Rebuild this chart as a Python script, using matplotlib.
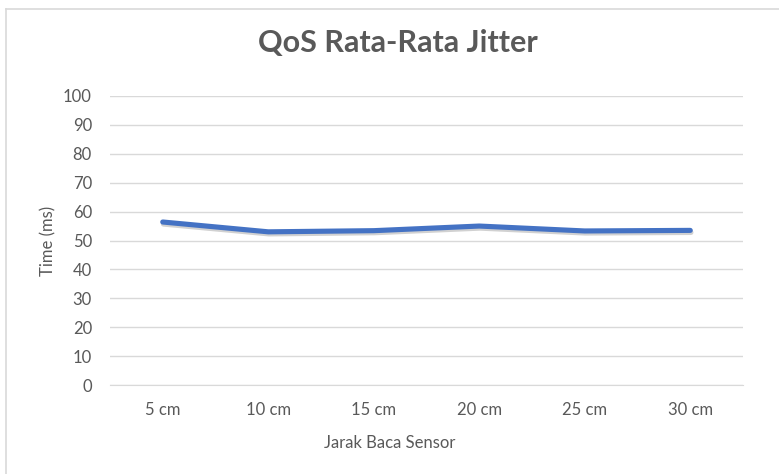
import matplotlib.pyplot as plt
import matplotlib.patheffects as pe
from matplotlib.lines import Line2D

categories = ['5 cm', '10 cm', '15 cm', '20 cm', '25 cm', '30 cm']
jitter = [56.4, 53.0, 53.4, 55.0, 53.3, 53.5]
yticks = [0, 10, 20, 30, 40, 50, 60, 70, 80, 90, 100]

plt.rcParams['font.family'] = ['Lato', 'DejaVu Sans']
txt = '#595959'

fig = plt.figure(figsize=(7.79, 4.74), dpi=100)
ax = fig.add_axes([110 / 779, 89 / 474, 633 / 779, 289 / 474])

x = list(range(len(categories)))
ax.plot(x, jitter, color='#4472C4', lw=3.7, solid_capstyle='round',
        path_effects=[pe.SimpleLineShadow(offset=(0.5, -1.5), shadow_color='#000000', alpha=0.18),
                      pe.Normal()], zorder=3)

ax.set_xlim(-0.5, len(categories) - 0.5)
ax.set_ylim(0, 100)
ax.set_yticks(yticks)
ax.set_xticks(x)
ax.set_xticklabels(categories)
ax.grid(axis='y', color='#D9D9D9', lw=1)
ax.set_axisbelow(True)
for s in ['top', 'right', 'left']:
    ax.spines[s].set_visible(False)
ax.spines['bottom'].set_color('#D9D9D9')
ax.tick_params(axis='both', length=0, labelsize=12, colors=txt)
ax.tick_params(axis='y', pad=13)
ax.tick_params(axis='x', pad=12)
ax.set_ylabel('Time (ms)', fontsize=12, color=txt, labelpad=5)

fig.text(390 / 779, 1 - 443 / 474, 'Jarak Baca Sensor', ha='center', va='center',
         fontsize=12, color=txt)
fig.text(398 / 779, 1 - 43 / 474, 'QoS Rata-Rata Jitter', ha='center', va='center',
         fontsize=22, fontweight='bold', color=txt)

# chart border (top and left visible)
fig.add_artist(Line2D([6 / 779, 1], [1 - 9 / 474, 1 - 9 / 474], color='#D9D9D9', lw=1.2))
fig.add_artist(Line2D([6 / 779, 6 / 779], [0, 1 - 9 / 474], color='#D9D9D9', lw=1.2))

plt.savefig('out.png', dpi=100)
